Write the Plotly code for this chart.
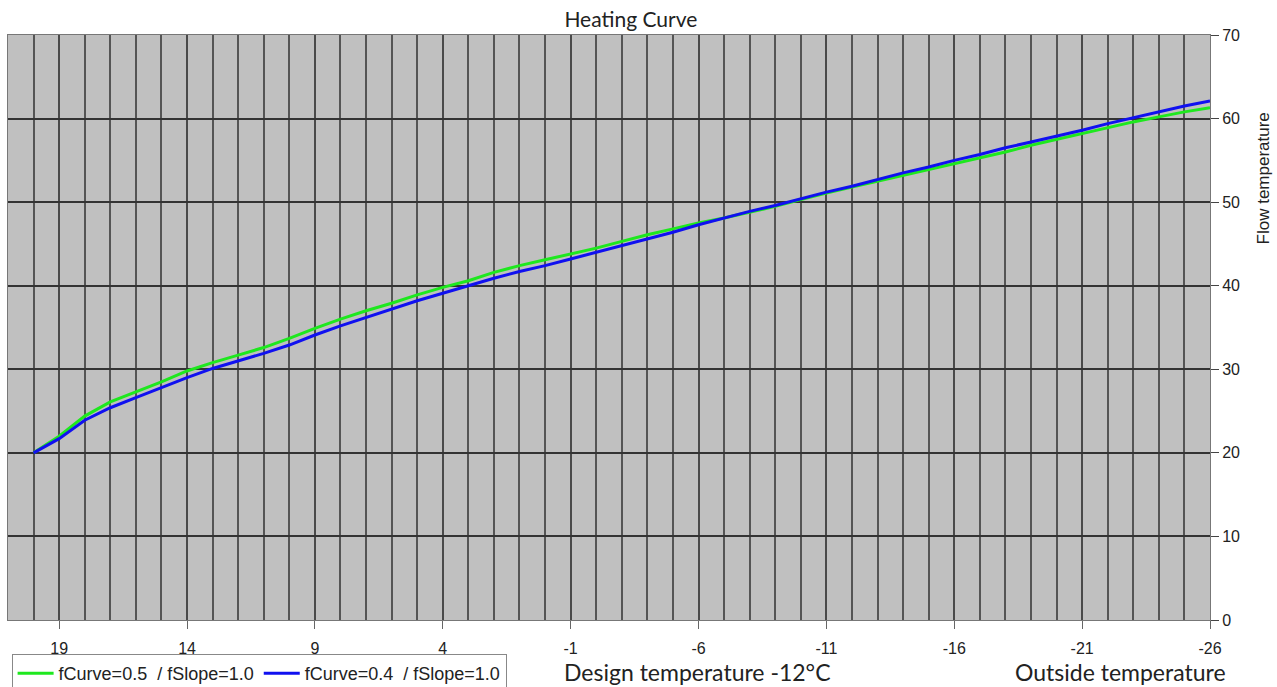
import plotly.graph_objects as go

# Outside temperature (°C), from +20 down to -26
outside_temp = list(range(20, -27, -1))

# Flow temperature for fCurve=0.5 / fSlope=1.0
flow_curve_05 = [
    20.0, 22.0, 24.4, 26.1, 27.3, 28.5, 29.8, 30.8, 31.7, 32.6,
    33.7, 34.9, 36.0, 37.0, 37.9, 38.9, 39.8, 40.6, 41.6, 42.4,
    43.1, 43.8, 44.5, 45.3, 46.1, 46.8, 47.5, 48.1, 48.8, 49.5,
    50.3, 51.1, 51.8, 52.5, 53.2, 53.9, 54.6, 55.3, 56.0, 56.8,
    57.5, 58.2, 58.9, 59.6, 60.2, 60.8, 61.3,
]

# Flow temperature for fCurve=0.4 / fSlope=1.0
flow_curve_04 = [
    20.0, 21.7, 23.9, 25.4, 26.6, 27.8, 29.0, 30.1, 31.0, 31.9,
    32.9, 34.1, 35.2, 36.2, 37.2, 38.2, 39.1, 40.0, 40.9, 41.7,
    42.4, 43.2, 44.0, 44.8, 45.6, 46.4, 47.3, 48.1, 48.9, 49.6,
    50.4, 51.2, 51.9, 52.7, 53.5, 54.2, 55.0, 55.7, 56.5, 57.2,
    57.9, 58.6, 59.4, 60.1, 60.8, 61.5, 62.1,
]

x_tick_vals = [19, 14, 9, 4, -1, -6, -11, -16, -21, -26]
x_tick_text = ["19", "14", "9", "4", "-1", "-6", "-11", "-16", "-21", "-26"]
y_tick_vals = [0, 10, 20, 30, 40, 50, 60, 70]

fig = go.Figure()
fig.add_trace(go.Scatter(
    x=outside_temp, y=flow_curve_05, mode="lines",
    name="fCurve=0.5\u00a0 / fSlope=1.0",
    line=dict(color="#1ee81e", width=3),
))
fig.add_trace(go.Scatter(
    x=outside_temp, y=flow_curve_04, mode="lines",
    name="fCurve=0.4\u00a0 / fSlope=1.0",
    line=dict(color="#1010f0", width=3),
))

fig.update_layout(
    width=1277, height=687,
    margin=dict(l=8, r=67, t=35, b=67),
    paper_bgcolor="white",
    plot_bgcolor="#c0c0c0",
    font=dict(family="Liberation Sans, Arial, sans-serif", color="#222"),
    title=dict(
        text="Heating Curve", x=0.494, xref="container", xanchor="center",
        y=0.972, yref="container", yanchor="middle",
        font=dict(family="Lato, sans-serif", size=21, color="#222"),
    ),
    showlegend=True,
    legend=dict(
        orientation="h", x=0.003, xanchor="left",
        y=0.048, yref="container", yanchor="top",
        bgcolor="white", bordercolor="#888", borderwidth=1,
        font=dict(size=18, color="#222"),
        itemwidth=36, tracegroupgap=0,
    ),
)

fig.update_xaxes(
    range=[21, -26], automargin=False,
    tickmode="array", tickvals=x_tick_vals, ticktext=x_tick_text,
    ticks="outside", ticklen=8, tickcolor="#666", tickwidth=1,
    tickfont=dict(size=16, color="#222"),
    ticklabelstandoff=6,
    showgrid=True, gridcolor="#4a4a4a", gridwidth=1.5,
    minor=dict(dtick=1, tick0=0, showgrid=True, gridcolor="#555555",
               gridwidth=1.5, ticks=""),
    showline=True, linecolor="#777", linewidth=1, mirror=True,
    zeroline=False,
)

fig.update_yaxes(
    range=[0, 70], side="right", automargin=False,
    tickmode="array", tickvals=y_tick_vals,
    ticks="outside", ticklen=8, tickcolor="#444", tickwidth=1,
    tickfont=dict(size=16, color="#222"),
    showgrid=True, gridcolor="#333333", gridwidth=1.5,
    showline=True, linecolor="#777", linewidth=1, mirror=True,
    zeroline=False,
)

# Axis captions
fig.add_annotation(
    text="Flow temperature", xref="paper", yref="paper",
    x=1.0445, y=0.7556, xanchor="center", yanchor="middle",
    textangle=-90, showarrow=False,
    font=dict(size=17, color="#222"),
)
fig.add_annotation(
    text="Design temperature -12°C", xref="paper", yref="paper",
    x=0.4609, y=-0.0889, xanchor="left", yanchor="middle", showarrow=False,
    font=dict(family="Lato, sans-serif", size=23, color="#222"),
)
fig.add_annotation(
    text="Outside temperature", xref="paper", yref="paper",
    x=1.0150, y=-0.0889, xanchor="right", yanchor="middle", showarrow=False,
    font=dict(family="Lato, sans-serif", size=23, color="#222"),
)

fig.write_html("out.html")
